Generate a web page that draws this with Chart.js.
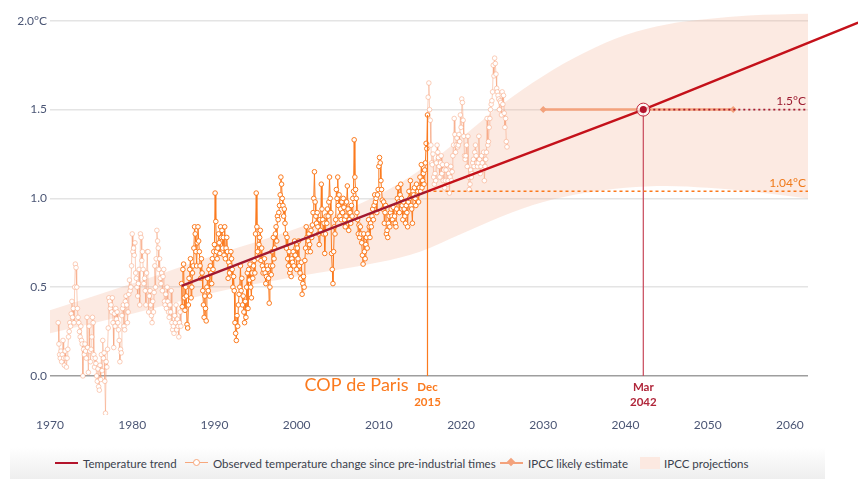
<!DOCTYPE html>
<html>
<head>
<meta charset="utf-8">
<script src="https://cdn.jsdelivr.net/npm/chart.js@4.4.1/dist/chart.umd.min.js"></script>
<style>
  body { margin: 0; background: #fff; font-family: Lato, sans-serif; }
  #wrap { position: relative; width: 858px; height: 479px; overflow: hidden; }
  #temp-chart { position: absolute; left: 0; top: 0; }
  .legend {
    position: absolute; left: 10px; top: 447px; width: 815px; height: 32px;
    background: linear-gradient(#ffffff, #eeeeee);
    font-size: 11.5px; color: #3b3f4c; white-space: nowrap;
  }
  .legend .item { position: absolute; top: 10px; display: flex; align-items: center; height: 12px; }
  .legend .sym { position: relative; width: 23px; height: 12px; margin-right: 5px; }
  .sym .ln { position: absolute; left: 0; right: 0; top: 5px; height: 2px; }
  .sym .dot { position: absolute; left: 8px; top: 2px; width: 5px; height: 5px; border: 1px solid #f7a77c; border-radius: 50%; background: #fff; }
  .sym .dia { position: absolute; left: 8px; top: 2px; width: 6px; height: 6px; background: #f3a27c; transform: rotate(45deg); }
  .sym .box { position: absolute; left: 0; right: 0; top: 0; bottom: 0; background: #fce9e1; }
</style>
</head>
<body>
<div id="wrap">
  <canvas id="temp-chart" width="858" height="445"></canvas>
  <div class="legend">
    <div class="item" style="left:45px"><div class="sym"><div class="ln" style="background:#b3142b"></div></div>Temperature trend</div>
    <div class="item" style="left:175px"><div class="sym"><div class="ln" style="background:#f7a77c;height:1px;top:5px"></div><div class="dot"></div></div>Observed temperature change since pre-industrial times</div>
    <div class="item" style="left:490px"><div class="sym"><div class="ln" style="background:#f3a27c"></div><div class="dia"></div></div>IPCC likely estimate</div>
    <div class="item" style="left:630px"><div class="sym" style="width:20px;margin-right:4px"><div class="box"></div></div>IPCC projections</div>
  </div>
</div>
<script>
// --- Данные (помесячно, с января 1971) ---
const startYear = 1971;
const obs1971_1980 = [
  0.30, 0.18, 0.12, 0.10, 0.14, 0.08, 0.12, 0.20, 0.10, 0.06, 0.14, 0.10,
  0.05, 0.10, 0.15, 0.22, 0.25, 0.30, 0.28, 0.35, 0.42, 0.33, 0.38, 0.30,
  0.50, 0.63, 0.61, 0.50, 0.38, 0.33, 0.30, 0.25, 0.22, 0.28, 0.20, 0.18,
  0.00, 0.15, 0.12, 0.18, 0.14, 0.10, 0.33, 0.16, 0.02, 0.28, 0.14, 0.08,
  0.15, 0.22, 0.33, 0.30, 0.12, 0.05, 0.10, 0.07, 0.00, -0.03, 0.04, -0.06,
  -0.08, 0.06, -0.02, 0.12, 0.03, 0.20, 0.10, 0.13, -0.03, -0.21, 0.08, 0.05,
  0.15, 0.27, 0.44, 0.42, 0.38, 0.40, 0.36, 0.44, 0.30, 0.16, 0.35, 0.28,
  0.38, 0.32, 0.36, 0.30, 0.26, 0.20, 0.08, 0.15, 0.13, 0.34, 0.38, 0.40,
  0.28, 0.26, 0.42, 0.45, 0.40, 0.30, 0.36, 0.46, 0.54, 0.48, 0.50, 0.62,
  0.80, 0.70, 0.72, 0.68, 0.75, 0.58, 0.55, 0.50, 0.45, 0.52, 0.60, 0.40
];
const obs1981_1990 = [
  0.80, 0.78, 0.65, 0.70, 0.60, 0.52, 0.55, 0.48, 0.40, 0.58, 0.70, 0.70,
  0.36, 0.45, 0.48, 0.40, 0.34, 0.30, 0.42, 0.36, 0.47, 0.62, 0.50, 0.66,
  0.82, 0.76, 0.72, 0.60, 0.66, 0.55, 0.52, 0.58, 0.48, 0.56, 0.60, 0.42,
  0.40, 0.46, 0.38, 0.50, 0.42, 0.36, 0.33, 0.40, 0.36, 0.48, 0.30, 0.26,
  0.28, 0.24, 0.34, 0.30, 0.40, 0.26, 0.32, 0.28, 0.22, 0.30, 0.36, 0.28,
  0.52, 0.39, 0.60, 0.63, 0.44, 0.37, 0.50, 0.45, 0.29, 0.27, 0.40, 0.55,
  0.60, 0.66, 0.44, 0.50, 0.58, 0.62, 0.72, 0.84, 0.80, 0.70, 0.62, 0.75,
  0.84, 0.76, 0.70, 0.62, 0.55, 0.66, 0.58, 0.48, 0.40, 0.33, 0.45, 0.38,
  0.31, 0.50, 0.55, 0.48, 0.60, 0.45, 0.62, 0.58, 0.52, 0.66, 0.60, 0.70,
  0.74, 1.03, 0.87, 0.70, 0.66, 0.72, 0.80, 0.75, 0.69, 0.84, 0.78, 0.82
];
const obs1991_2000 = [
  0.72, 0.78, 0.68, 0.84, 0.66, 0.72, 0.78, 0.70, 0.55, 0.64, 0.58, 0.62,
  0.70, 0.66, 0.60, 0.50, 0.56, 0.48, 0.30, 0.24, 0.20, 0.34, 0.28, 0.40,
  0.46, 0.50, 0.62, 0.48, 0.55, 0.40, 0.45, 0.36, 0.30, 0.42, 0.33, 0.50,
  0.58, 0.38, 0.60, 0.54, 0.63, 0.50, 0.44, 0.58, 0.55, 0.62, 0.65, 0.58,
  0.80, 1.03, 0.84, 0.70, 0.66, 0.74, 0.78, 0.82, 0.65, 0.72, 0.62, 0.58,
  0.60, 0.66, 0.58, 0.52, 0.56, 0.62, 0.60, 0.55, 0.41, 0.50, 0.62, 0.57,
  0.70, 0.62, 0.78, 0.66, 0.72, 0.80, 0.84, 0.76, 0.90, 0.88, 0.92, 0.96,
  1.02, 1.12, 1.08, 1.00, 0.96, 0.90, 0.94, 0.86, 0.80, 0.72, 0.78, 0.66,
  0.62, 0.70, 0.58, 0.60, 0.56, 0.66, 0.64, 0.70, 0.62, 0.76, 0.68, 0.72,
  0.60, 0.72, 0.66, 0.76, 0.62, 0.58, 0.55, 0.64, 0.46, 0.52, 0.56, 0.50
];
const obs2001_2010 = [
  0.65, 0.72, 0.84, 0.78, 0.70, 0.76, 0.80, 0.74, 0.70, 0.82, 0.78, 0.85,
  0.92, 1.00, 1.15, 0.98, 0.90, 0.86, 0.92, 0.84, 0.80, 0.74, 0.88, 0.82,
  1.08, 0.94, 0.88, 0.80, 0.86, 0.69, 0.80, 0.90, 0.86, 0.94, 0.90, 0.98,
  1.12, 1.00, 0.92, 0.69, 0.60, 0.52, 0.70, 0.84, 0.80, 0.88, 1.05, 1.00,
  1.12, 0.96, 1.02, 0.90, 0.94, 0.88, 0.98, 0.92, 1.00, 0.95, 0.88, 0.84,
  0.90, 0.98, 1.07, 0.94, 0.82, 0.88, 0.92, 0.86, 0.96, 0.90, 1.00, 1.04,
  1.33, 1.12, 1.05, 1.00, 0.92, 0.88, 0.80, 0.85, 0.78, 0.84, 0.80, 0.75,
  0.68, 0.63, 0.80, 0.70, 0.66, 0.74, 0.78, 0.72, 0.80, 0.88, 0.84, 0.78,
  0.86, 0.84, 0.90, 0.94, 0.88, 0.96, 1.02, 0.98, 1.00, 0.92, 1.02, 1.05,
  1.18, 1.23, 1.20, 1.10, 1.05, 0.99, 0.94, 0.98, 0.86, 0.92, 0.96, 0.80
];
const obs2011_2020 = [
  0.82, 0.78, 0.86, 0.90, 0.84, 0.92, 0.94, 0.90, 0.88, 0.95, 0.86, 0.90,
  0.86, 0.84, 0.94, 1.00, 1.06, 0.98, 0.92, 1.02, 1.08, 1.00, 0.96, 0.88,
  0.98, 0.94, 0.90, 0.86, 0.96, 0.92, 0.84, 0.98, 1.04, 1.00, 1.10, 0.96,
  0.94, 0.86, 1.04, 1.02, 1.06, 1.00, 0.96, 1.08, 1.02, 1.04, 0.98, 1.06,
  1.12, 1.04, 1.19, 1.06, 1.10, 1.14, 1.08, 1.16, 1.20, 1.31, 1.28, 1.47,
  1.57, 1.65, 1.50, 1.44, 1.30, 1.20, 1.19, 1.25, 1.12, 1.08, 1.14, 1.10,
  1.20, 1.30, 1.26, 1.23, 1.18, 1.12, 1.20, 1.24, 1.14, 1.19, 1.10, 1.16,
  1.06, 1.10, 1.16, 1.19, 1.08, 1.10, 1.14, 1.03, 1.12, 1.18, 1.10, 1.15,
  1.24, 1.30, 1.45, 1.36, 1.26, 1.30, 1.34, 1.29, 1.30, 1.36, 1.32, 1.47,
  1.40, 1.56, 1.54, 1.44, 1.35, 1.24, 1.22, 1.24, 1.30, 1.18, 1.35, 1.12
];
const obs2021_2025 = [
  1.05, 1.08, 1.16, 1.12, 1.14, 1.20, 1.22, 1.18, 1.26, 1.30, 1.24, 1.20,
  1.18, 1.20, 1.35, 1.22, 1.14, 1.18, 1.24, 1.20, 1.16, 1.26, 1.10, 1.18,
  1.22, 1.26, 1.45, 1.30, 1.32, 1.40, 1.45, 1.50, 1.53, 1.55, 1.60, 1.75,
  1.69, 1.79, 1.76, 1.70, 1.62, 1.60, 1.58, 1.56, 1.50, 1.55, 1.54, 1.47,
  1.60, 1.53, 1.58, 1.48, 1.40, 1.45, 1.32, 1.29
];

// Период, выделенный оранжевым (1986 — декабрь 2015)
const highlightStart = 1986;
const copYear = 2015 + 11 / 12;     // Dec 2015
const crossYear = 2042 + 2 / 12;    // Mar 2042

// Линия тренда
const trendYears = [1986, copYear, crossYear, 2068.3];
const trendValues = [0.507, 1.04, 1.5, 1.99];

// Коридор прогнозов IPCC
const bandYears = [1970, 1980, 1990, 2000, 2010, 2015, 2020, 2025, 2030, 2035, 2040, 2045, 2050, 2055, 2062.2];
const bandUpper = [0.37, 0.52, 0.68, 0.83, 1.02, 1.16, 1.34, 1.53, 1.69, 1.82, 1.92, 1.98, 2.01, 2.03, 2.04];
const bandLower = [0.24, 0.35, 0.47, 0.56, 0.64, 0.70, 0.80, 0.90, 0.98, 1.03, 1.06, 1.07, 1.06, 1.04, 1.00];

// Оценка IPCC (1.5°C между 2030 и 2052)
const ipccYears = [2030, 2053.1];
const ipccLevel = 1.5;
const parisLevel = 1.04;
const axisEnd = 2062.2;

const xTicks = [1970, 1980, 1990, 2000, 2010, 2020, 2030, 2040, 2050, 2060];
const yTicks = [0, 0.5, 1, 1.5, 2];

// --- Цвета ---
const ORANGE = '#fb7a1e';
const FADED = 'rgba(247,160,120,0.5)';
const TREND_DARK = '#a3192f';
const TREND_RED = '#c4111a';
const AXIS_TEXT = '#4b5675';

const observed = [].concat(obs1971_1980, obs1981_1990, obs1991_2000, obs2001_2010, obs2011_2020, obs2021_2025)
  .map((v, i) => ({ x: startYear + i / 12, y: v }));
const isHighlighted = x => x >= highlightStart - 0.001 && x <= copYear + 0.001;
// цвета точек считаем заранее, без скриптовых опций
const observedPointColors = observed.map(p => isHighlighted(p.x) ? ORANGE : FADED);
const decValue = observed.find(p => Math.abs(p.x - copYear) < 0.01).y;

const zip = (xs, ys) => xs.map((x, i) => ({ x, y: ys[i] }));

// Линии без маркеров
const plainLine = (data, color, width, extra) => Object.assign({
  data, borderColor: color, borderWidth: width,
  pointRadius: 0, pointHoverRadius: 0, pointBackgroundColor: color, pointBorderColor: color
}, extra || {});

const annotationText = {
  id: 'annotationText',
  afterDatasetsDraw(chart) {
    const { ctx, scales: { x, y } } = chart;
    const y0 = y.getPixelForValue(0);
    const xc = x.getPixelForValue(copYear);
    const xm = x.getPixelForValue(crossYear);
    const right = chart.chartArea.right - 2;
    ctx.save();
    ctx.textBaseline = 'middle';
    // COP de Paris
    ctx.fillStyle = ORANGE;
    ctx.textAlign = 'right';
    ctx.font = '18px Lato';
    ctx.fillText('COP de Paris', xc - 19, y0 + 9);
    ctx.textAlign = 'center';
    ctx.font = 'bold 11.5px Lato';
    ctx.fillText('Dec', xc, y0 + 11);
    ctx.fillText('2015', xc, y0 + 26);
    ctx.fillStyle = '#b0263a';
    ctx.fillText('Mar', xm, y0 + 11);
    ctx.fillText('2042', xm, y0 + 26);
    // подписи уровней
    ctx.textAlign = 'right';
    ctx.font = '12px Lato';
    ctx.fillStyle = '#9c1c31';
    ctx.fillText('1.5°C', right, y.getPixelForValue(ipccLevel) - 8);
    ctx.fillStyle = '#f07a1a';
    ctx.fillText('1.04°C', right, y.getPixelForValue(parisLevel) - 8);
    ctx.restore();
  }
};

const ctx = document.getElementById('temp-chart').getContext('2d');
const chart = new Chart(ctx, {
  type: 'line',
  data: {
    datasets: [
      { // внутренняя точка пересечения
        data: [{ x: crossYear, y: ipccLevel }],
        pointRadius: 3.5, pointBackgroundColor: '#b3122b', pointBorderColor: '#b3122b',
        pointBorderWidth: 0, showLine: false, borderColor: '#b3122b'
      },
      { // кольцо
        data: [{ x: crossYear, y: ipccLevel }],
        pointRadius: 6.5, pointBackgroundColor: 'rgba(255,255,255,0.7)', pointBorderColor: '#c0263a',
        pointBorderWidth: 1, showLine: false, borderColor: '#c0263a'
      },
      plainLine(zip(trendYears, trendValues), TREND_RED, 2.5, {
        clip: false,
        segment: { borderColor: c => c.p1.parsed.x <= copYear + 0.001 ? TREND_DARK : TREND_RED }
      }),
      plainLine([{ x: crossYear, y: ipccLevel }, { x: axisEnd, y: ipccLevel }], '#a8192e', 1.8, { borderDash: [2, 3] }),
      plainLine([{ x: copYear, y: parisLevel }, { x: axisEnd, y: parisLevel }], ORANGE, 1.5, { borderDash: [3, 3] }),
      plainLine([{ x: crossYear, y: 0 }, { x: crossYear, y: ipccLevel }], '#c8485a', 1.2),
      plainLine([{ x: copYear, y: 0 }, { x: copYear, y: decValue }], ORANGE, 1.2),
      { // IPCC likely estimate
        data: zip(ipccYears, [ipccLevel, ipccLevel]),
        borderColor: '#f3a27c', borderWidth: 2.5, pointStyle: 'rectRot',
        pointRadius: 3.5, pointBackgroundColor: '#f3a27c', pointBorderColor: '#f3a27c', pointBorderWidth: 0
      },
      { // наблюдения
        data: observed,
        borderWidth: 1,
        borderColor: FADED,
        segment: { borderColor: c => isHighlighted(c.p0.parsed.x) && isHighlighted(c.p1.parsed.x) ? ORANGE : FADED },
        pointRadius: 2.3,
        pointBorderWidth: 1,
        pointBackgroundColor: '#ffffff',
        pointBorderColor: observedPointColors
      },
      plainLine(zip(bandYears, bandUpper), 'rgba(0,0,0,0)', 0, {
        tension: 0.4, cubicInterpolationMode: 'monotone',
        fill: 10, backgroundColor: 'rgba(245,170,140,0.25)'
      }),
      plainLine(zip(bandYears, bandLower), 'rgba(0,0,0,0)', 0, {
        tension: 0.4, cubicInterpolationMode: 'monotone', fill: false
      })
    ]
  },
  options: {
    responsive: false,
    animation: false,
    devicePixelRatio: 1,
    parsing: false,
    events: [],
    elements: { point: { radius: 0, hoverRadius: 0, backgroundColor: '#ffffff' } },
    layout: { padding: { top: 2, right: 50, left: 0, bottom: 0 } },
    plugins: { legend: { display: false }, tooltip: { enabled: false } },
    scales: {
      x: {
        type: 'linear', min: 1970, max: axisEnd,
        afterBuildTicks: s => { s.ticks = xTicks.map(v => ({ value: v })); },
        afterFit: s => { s.height = 30; },
        grid: { display: false, drawTicks: false },
        border: { display: false },
        ticks: { padding: 3, color: AXIS_TEXT, font: { family: 'Lato', size: 12 }, callback: v => String(v) }
      },
      y: {
        min: -0.22, max: 2.06,
        afterBuildTicks: s => { s.ticks = yTicks.map(v => ({ value: v })); },
        afterFit: s => { s.width = 50; },
        grid: {
          drawTicks: false,
          color: c => (c.tick && c.tick.value === 0) ? '#9e9e9e' : '#e4e4e4',
          lineWidth: 1.5
        },
        border: { display: false },
        ticks: {
          padding: 3, color: AXIS_TEXT, font: { family: 'Lato', size: 12 },
          callback: v => v === 2 ? '2.0°C' : v.toFixed(1)
        }
      }
    }
  },
  plugins: [annotationText]
});
</script>
</body>
</html>
